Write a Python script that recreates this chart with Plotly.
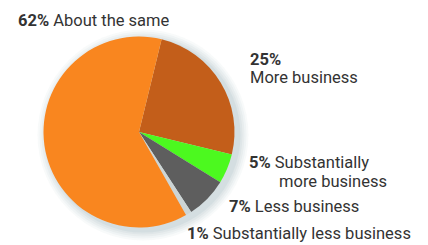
import plotly.graph_objects as go

labels = ["More business", "Substantially more business", "Less business",
          "Substantially less business", "About the same"]
values = [25, 5, 7, 1, 62]
colors = ["#C35E1A", "#4CF91F", "#5E5E5E", "#CDD5D5", "#F9861F"]

# page body has an 8px margin; work in reference-pixel coordinates
OFF = 8
W, H = 420, 237
cx, cy, r = 139, 132, 95.5

def px(x):
    return (x - OFF) / W

def py(y):
    return (H - (y - OFF)) / H

fig = go.Figure()
fig.add_trace(go.Pie(
    labels=labels, values=values, sort=False, direction="clockwise",
    rotation=13.7, textinfo="none", hoverinfo="label+percent",
    marker=dict(colors=colors, line=dict(width=0)),
    domain=dict(x=[px(cx - r), px(cx + r)], y=[py(cy + r), py(cy - r)]),
    showlegend=False,
))

# soft shadow
for dr, op in [(10, 0.05), (8, 0.06), (6, 0.07), (4, 0.08), (2, 0.1)]:
    sx, sy = cx + 4, cy + 3
    fig.add_shape(type="circle", xref="paper", yref="paper", layer="below",
                  x0=px(sx - r - dr), x1=px(sx + r + dr),
                  y0=py(sy + r + dr), y1=py(sy - r - dr),
                  fillcolor="#7a9aa2", opacity=op, line=dict(width=0))

font = dict(family="Roboto, Arial", size=16.5, color="#333333")

def ann(x, y, text):
    fig.add_annotation(x=px(x), y=py(y), xref="paper", yref="paper",
                       xanchor="left", yanchor="middle", text=text,
                       showarrow=False, font=font)

pct = [f"{v}%" for v in values]
ann(16, 20, f"<b>{pct[4]}</b> About the same")
ann(248, 59, f"<b>{pct[0]}</b>")
ann(248, 78, "More business")
ann(247, 162, f"<b>{pct[1]}</b> Substantially")
ann(277, 181, "more business")
ann(227, 206, f"<b>{pct[2]}</b> Less business")
ann(185, 233, f"<b>{pct[3]}</b> Substantially less business")

fig.update_layout(width=W, height=H, margin=dict(l=0, r=0, t=0, b=0),
                  paper_bgcolor="white", plot_bgcolor="white")
fig.write_html("out.html")
